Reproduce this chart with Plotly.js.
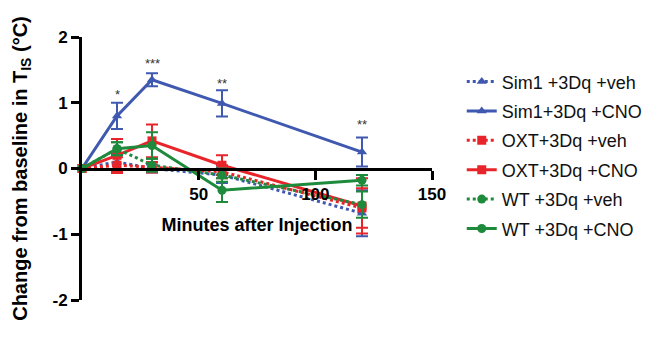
<!DOCTYPE html>
<html><head><meta charset="utf-8">
<script src="https://cdn.plot.ly/plotly-3.0.1.min.js"></script>
<style>body{margin:0;background:#fff}#c{width:660px;height:343px}</style>
</head><body><div id="c"></div>
<script>
const minutes = [0, 15, 30, 60, 120];
const sim1Veh = [0, 0.1, 0.0, -0.1, -0.68];
const sim1VehErr = [0, 0.12, 0.06, 0.12, 0.35];
const sim1Cno = [0, 0.8, 1.35, 0.99, 0.25];
const sim1CnoErr = [0, 0.2, 0.1, 0.2, 0.22];
const oxtVeh = [0, 0.05, 0.02, -0.05, -0.6];
const oxtVehErr = [0, 0.12, 0.08, 0.1, 0.3];
const oxtCno = [0, 0.2, 0.42, 0.05, -0.57];
const oxtCnoErr = [0, 0.25, 0.25, 0.15, 0.42];
const wtVeh = [0, 0.3, 0.05, -0.1, -0.55];
const wtVehErr = [0, 0.1, 0.1, 0.1, 0.2];
const wtCno = [0, 0.3, 0.35, -0.33, -0.18];
const wtCnoErr = [0, 0.1, 0.2, 0.18, 0.08];
const seriesNames = ["Sim1 +3Dq +veh", "Sim1+3Dq +CNO", "OXT+3Dq +veh", "OXT+3Dq +CNO", "WT +3Dq +veh", "WT +3Dq +CNO"];
const starX = [15, 30, 60, 120];
const starY = [1.13, 1.6, 1.3, 0.67];
const starText = ["*", "***", "**", "**"];

const BLUE = "#4059b0", RED = "#e8242b", GREEN = "#1e8a3c";
function tr(name, y, err, color, dash, symbol, i) {
  return {
    x: minutes, y: y, name: name, type: "scatter", mode: "lines+markers",
    legendgroup: "g" + i, cliponaxis: false,
    line: {color: color, width: 3, dash: dash},
    marker: {color: color, symbol: symbol, size: 9},
    error_y: {type: "data", array: err, visible: true, color: color, thickness: 2, width: 6}
  };
}
const data = [
  tr(seriesNames[0], sim1Veh, sim1VehErr, BLUE, "dot", "triangle-up", 0),
  tr(seriesNames[1], sim1Cno, sim1CnoErr, BLUE, "solid", "triangle-up", 1),
  tr(seriesNames[2], oxtVeh, oxtVehErr, RED, "dot", "square", 2),
  tr(seriesNames[3], oxtCno, oxtCnoErr, RED, "solid", "square", 3),
  tr(seriesNames[4], wtVeh, wtVehErr, GREEN, "dot", "circle", 4),
  tr(seriesNames[5], wtCno, wtCnoErr, GREEN, "solid", "circle", 5)
];
const annotations = starX.map((x, i) => ({
  x: x, y: starY[i], text: starText[i], showarrow: false,
  font: {family: "Liberation Sans", size: 13, color: "#333"}
}));
const layout = {
  width: 660, height: 343,
  margin: {l: 82, r: 228, t: 37, b: 43},
  paper_bgcolor: "#fff", plot_bgcolor: "#fff",
  font: {family: "Liberation Sans, Arial, sans-serif", color: "#000"},
  showlegend: true,
  legend: {x: 1.085, y: 0.9, yanchor: "top", xanchor: "left",
    traceorder: "grouped", tracegroupgap: 3,
    font: {size: 18, family: "Liberation Sans", color: "#111"}},
  xaxis: {range: [0, 150], anchor: "free", position: 0.5,
    showline: true, linecolor: "#000", linewidth: 3,
    showgrid: false, zeroline: false,
    tickvals: [50, 100, 150], ticktext: ["50", "100", "150"],
    ticks: "outside", ticklen: 9, tickwidth: 3, tickcolor: "#000",
    tickfont: {size: 17, family: "Liberation Sans", weight: "bold"},
    title: {text: "Minutes after Injection", standoff: 15,
      font: {size: 18, family: "Liberation Sans", weight: "bold"}}},
  yaxis: {range: [-2, 2], showline: true, linecolor: "#000", linewidth: 3,
    showgrid: false, zeroline: false,
    tickvals: [-2, -1, 0, 1, 2], ticktext: ["-2", "-1", "0", "1", "2"],
    ticks: "outside", ticklen: 8, tickwidth: 3, tickcolor: "#000",
    tickfont: {size: 17, family: "Liberation Sans", weight: "bold"},
    title: {text: "Change from baseline in T<sub>IS</sub> (°C)", standoff: 20,
      font: {size: 20, family: "Liberation Sans", weight: "bold"}}},
  annotations: annotations
};
Plotly.newPlot("c", data, layout, {displayModeBar: false, staticPlot: true});
</script></body></html>
